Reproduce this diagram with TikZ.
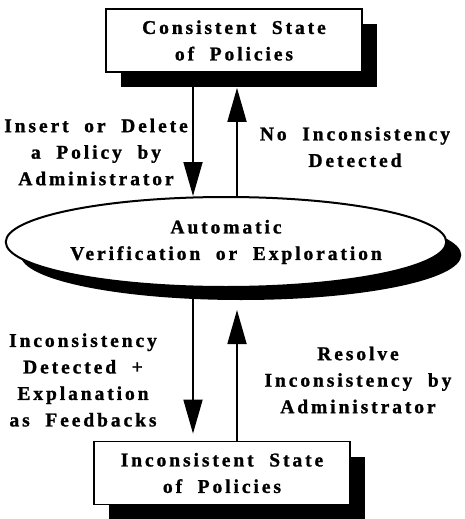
\documentclass[tikz,border=0pt]{standalone}
\usepackage{fontspec}
\setmainfont{Liberation Serif}
\newfontfamily\figfont[LetterSpace=15,WordSpace=2,FakeBold=1.2]{Liberation Serif}
\usetikzlibrary{arrows.meta, shapes.geometric, shadows}

\begin{document}
\begin{tikzpicture}[x=1pt, y=-1pt,
		txt/.style={align=center, inner sep=0pt, font=\figfont\bfseries\fontsize{19.5}{26.5}\selectfont},
		state/.style={txt, draw, line width=1.8pt, fill=white, minimum width=256pt, minimum height=63pt,
			drop shadow={shadow xshift=15pt, shadow yshift=-15pt, fill=black, opacity=1}},
		flow/.style={line width=1.8pt, -{Triangle[length=34pt, width=19pt]}}]
			\useasboundingbox (0,0) rectangle (465,519);
			
			\node[state] (cons) at (234,40.5){Consistent State\\of Policies};
			\node[txt, ellipse, draw, line width=2pt, fill=white, minimum width=416pt, minimum height=90pt,
				drop shadow={shadow xshift=15pt, shadow yshift=-13pt, fill=black, opacity=1}] (ver) at (226,242){Automatic\\Verification or Exploration};
			\node[state] (incons) at (222,473){Inconsistent State\\of Policies};
			
			\coordinate (colL) at (193,0);
			\coordinate (colR) at (237,0);
			
			\draw[flow] (cons.south -| colL) -- (ver.north -| colL);
			\draw[flow, shorten >=15pt] (ver.north -| colR) -- (cons.south -| colR);
			
			\draw[flow, shorten >=7pt] (ver.south -| colL) -- (incons.north -| colL);
			\draw[flow, shorten >=22pt] (incons.north -| colR) -- (ver.south -| colR);
			
			\node[txt] (ins) at (96,152){Insert or Delete\\a Policy by\\Administrator};
			\node[txt] (nodet) at (355,147){No Inconsistency\\Detected};
			\node[txt] (feed) at (83,380){Inconsistency\\Detected +\\Explanation\\as Feedbacks};
			\node[txt] (resolve) at (358,380){Resolve\\Inconsistency by\\Administrator};
		\end{tikzpicture}
\end{document}
